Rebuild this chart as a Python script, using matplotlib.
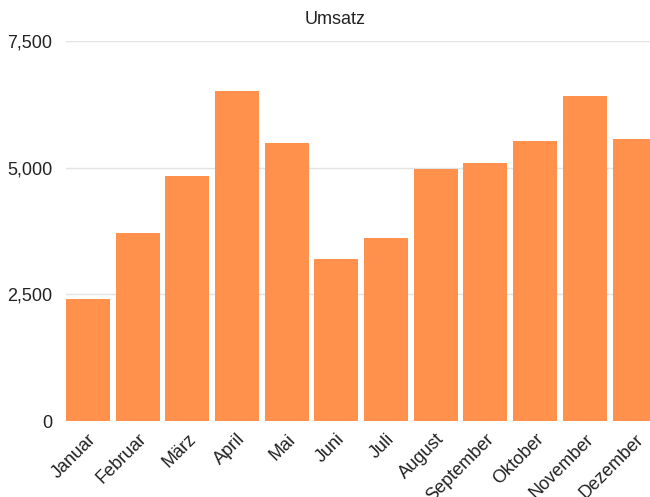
import matplotlib.pyplot as plt

# Monthly revenue
months = ["Januar", "Februar", "März", "April", "Mai", "Juni",
          "Juli", "August", "September", "Oktober", "November", "Dezember"]
umsatz = [2410, 3710, 4830, 6510, 5490, 3200, 3610, 4970, 5100, 5530, 6410, 5570]
y_ticks = [0, 2500, 5000, 7500]
y_labels = ["0", "2,500", "5,000", "7,500"]

plt.rcParams["font.family"] = ["Liberation Sans", "DejaVu Sans"]

W, H = 650, 497
fig = plt.figure(figsize=(W / 100, H / 100), dpi=100)

# plot area in pixels: left 66, top 41, bottom 421; runs past the right edge (cropped)
left, top, bottom = 66, 41, 421
slot = 49.7
x0 = -0.44
x1 = 11.5
ax = fig.add_axes([left / W, 1 - bottom / H, (x1 - x0) * slot / W, (bottom - top) / H])

ax.bar(range(len(months)), umsatz, width=0.885, color="#FF914D", zorder=3)

ax.set_xlim(x0, x1)
ax.set_ylim(0, 7500)
ax.set_yticks(y_ticks)
ax.set_yticklabels(y_labels)
ax.grid(axis="y", color="#e3e3e3", linewidth=1, zorder=0)
ax.set_xticks(range(len(months)))
ax.set_xticklabels(months, rotation=45, ha="right", rotation_mode="anchor")

for s in ax.spines.values():
    s.set_visible(False)
ax.tick_params(axis="both", length=0, labelsize=13, colors="#222222")
ax.tick_params(axis="y", pad=10)
ax.tick_params(axis="x", pad=7)

fig.text(335 / W, 1 - 20 / H, "Umsatz", ha="center", va="center", fontsize=13, color="#222222")

fig.savefig("out.png", dpi=100)
